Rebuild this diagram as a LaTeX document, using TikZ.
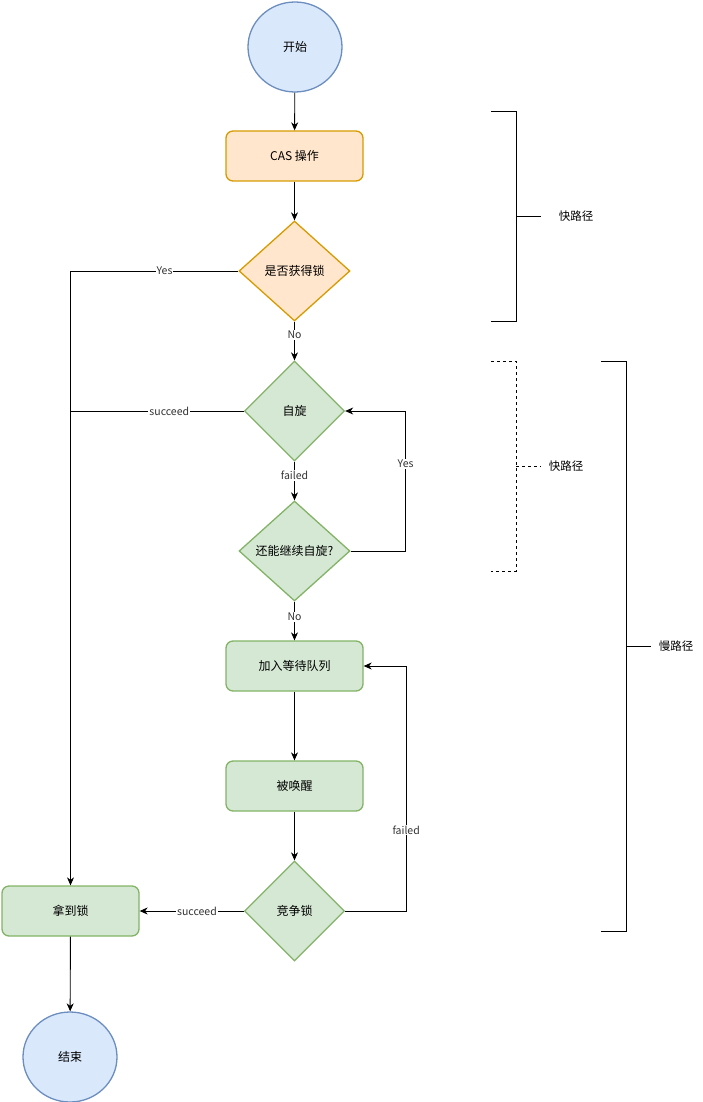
\documentclass[tikz,border=0pt]{standalone}
\usepackage{fontspec}
\setmainfont{Noto Sans CJK SC}
\usetikzlibrary{shapes.geometric,arrows.meta}

\definecolor{blueF}{HTML}{DAE8FC}
\definecolor{blueD}{HTML}{6C8EBF}
\definecolor{orangeF}{HTML}{FFE6CC}
\definecolor{orangeD}{HTML}{D79B00}
\definecolor{greenF}{HTML}{D5E8D4}
\definecolor{greenD}{HTML}{82B366}

\tikzset{
    terminal/.style={ellipse, draw=blueD, fill=blueF, line width=1.3pt,
        minimum width=94pt, minimum height=90pt, inner sep=0pt},
    process/.style={rectangle, rounded corners=7pt, line width=1.3pt,
        minimum width=137pt, minimum height=50pt, inner sep=0pt},
    decide/.style={diamond, line width=1.3pt, inner sep=0pt,
        minimum width=#1, minimum height=100pt},
    decide/.default=100pt,
    lbl/.style={fill=white, inner sep=1pt, text=black!80,
        font=\fontsize{10.5}{12}\selectfont},
    flow/.style={line width=0.9pt, -{Stealth[length=8pt,width=7pt,inset=2.5pt]}}
}

\begin{document}
\begin{tikzpicture}[x=1pt, y=-1pt, font=\fontsize{12}{14}\selectfont]
        \useasboundingbox (0,0) rectangle (702,1102);

        \node[terminal] (start) at (295,47) {开始};
        \node[process, draw=orangeD, fill=orangeF] (cas) at (294.5,156) {CAS 操作};
        \node[decide=111pt, draw=orangeD, fill=orangeF, label=center:{是否获得锁}] (got1) at (294.5,271) {};
        \node[decide, draw=greenD, fill=greenF, label=center:{自旋}] (spin) at (294.5,411) {};
        \node[decide=111pt, draw=greenD, fill=greenF, label=center:{还能继续自旋?}] (again) at (294.5,551) {};
        \node[process, draw=greenD, fill=greenF] (queue) at (294.5,666) {加入等待队列};
        \node[process, draw=greenD, fill=greenF] (wake) at (294.5,786) {被唤醒};
        \node[decide, draw=greenD, fill=greenF, label=center:{竞争锁}] (race) at (294.5,911) {};
        \node[process, draw=greenD, fill=greenF] (lock) at (70.5,911) {拿到锁};
        \node[terminal] (stop) at (70,1057) {结束};

        \draw[flow] (start) -- (cas);
        \draw[flow] (cas) -- (got1);
        \draw[flow] (got1) -- node[lbl, pos=0.35] {No} (spin);
        \draw[flow] (spin) -- node[lbl, pos=0.35] {failed} (again);
        \draw[flow] (again) -- node[lbl, pos=0.4] {No} (queue);
        \draw[flow] (queue) -- (wake);
        \draw[flow] (wake) -- (race);
        \draw[flow] (race) -- node[lbl, pos=0.45] {succeed} (lock);
        \draw[flow] (lock) -- (stop);

        \draw[flow] (got1.west) -| node[lbl, pos=0.22] {Yes} (lock.north);
        \draw[line width=0.9pt] (spin.west) -- node[lbl, pos=0.43] {succeed} (spin.west -| lock.north);
        \draw[flow] (again.east) -- ++(55,0) |- node[lbl, pos=0.31] {Yes} (spin.east);
        \draw[flow] (race.east) -- ++(61,0) |- node[lbl, pos=0.165] {failed} (queue.east);

        \draw[line width=0.9pt] (491,111) -| (516,321) -- (491,321);
        \draw[line width=0.9pt] (516,216) -- (541,216);
        \node[font=\fontsize{11.5}{13}\selectfont] (fast) at (576,216) {快路径};

        \draw[line width=0.9pt, dashed] (491,361) -| (516,571) -- (491,571);
        \draw[line width=0.9pt, dashed] (516,466) -- (541,466);
        \node[font=\fontsize{11.5}{13}\selectfont] (spinfast) at (566,466) {快路径};

        \draw[line width=0.9pt] (601,361) -| (626,931) -- (601,931);
        \draw[line width=0.9pt] (626,646) -- (651,646);
        \node[font=\fontsize{11.5}{13}\selectfont] (slow) at (676,646) {慢路径};
    \end{tikzpicture}
\end{document}
